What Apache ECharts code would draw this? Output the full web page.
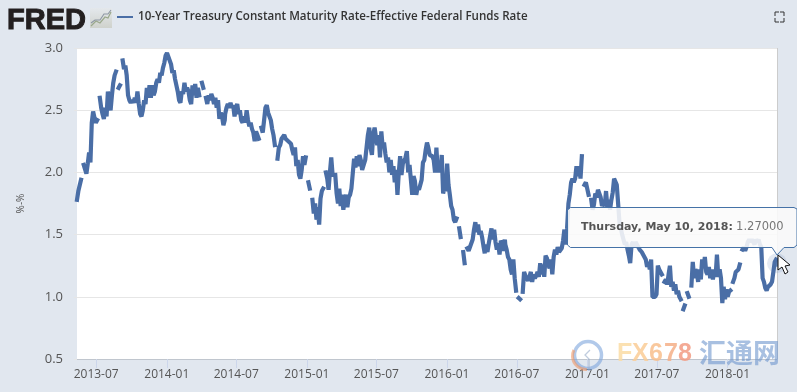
<!DOCTYPE html>
<html><head><meta charset="utf-8">
<style>html,body{margin:0;padding:0;background:#e1e7ef}#c{width:797px;height:392px}</style>
<script src="https://cdn.jsdelivr.net/npm/echarts@6/dist/echarts.min.js"></script>
</head><body><div id="c"></div>
<script>
const _ = null;
const seriesName = '10-Year Treasury Constant Maturity Rate-Effective Federal Funds Rate';
const stepDays = 3.5;
const yTicks = [0.5, 1.0, 1.5, 2.0, 2.5, 3.0];
const xTickDates = ['2013-07-01','2014-01-01','2014-07-01','2015-01-01','2015-07-01','2016-01-01','2016-07-01','2017-01-01','2017-07-01','2018-01-01'];
const firstDates = ['2013-05-12','2014-06-02','2015-06-02','2016-06-01','2017-05-19'];
const rates2013 = [1.78,1.85,1.86,1.94,_,2.06,2.06,1.99,2.07,2.16,2.08,2.40,2.49,2.44,2.40,2.42,_,2.60,2.52,2.47,2.43,2.52,2.45,2.65,2.55,2.50,2.62,2.72,2.78,2.81,_,2.68,2.70,_,2.90,2.83,2.86,2.78,2.62,2.58,2.56,2.58,2.56,2.60,2.56,2.65,2.55,2.47,2.45,2.50,2.58,2.55,2.68,2.60,2.70,2.60,2.70,2.62,2.65,2.72,2.75,2.72,2.80,2.78,2.84,2.88,2.94,2.96,2.93,2.94,2.87,2.80,2.82,2.75,2.70,2.65,2.58,2.56,2.65,2.63,2.72,2.65,2.68,2.65,2.58,2.55,2.70,2.62,2.71,2.60,2.68,2.62,_,2.72,2.68,_,2.60,2.55,2.62,2.58,2.63,2.60,2.55,2.60,2.52,2.58,2.43,2.48,2.45,2.38,2.42];
const rates2014 = [2.47,2.52,2.55,2.52,2.56,2.52,2.54,2.45,2.52,2.55,2.47,2.50,2.42,2.40,2.45,2.40,2.50,2.42,2.37,2.40,2.35,2.32,2.25,2.33,2.30,2.27,_,2.36,2.32,2.42,2.52,2.54,2.48,2.45,2.42,2.35,2.30,2.22,_,2.11,2.20,2.22,2.27,2.26,2.30,2.27,2.28,2.25,2.26,2.23,2.18,2.14,2.20,2.05,2.10,1.98,1.95,2.02,2.13,2.06,2.12,_,1.92,1.87,_,1.78,1.67,1.75,1.62,1.72,1.58,1.79,1.85,1.87,_,2.00,1.95,1.86,2.00,2.12,1.98,_,1.98,1.83,1.75,1.87,1.73,1.82,1.70,1.78,1.82,1.72,1.80,1.82,1.87,1.99,2.11,2.04,2.13,2.05,2.14,2.10,2.02,2.02];
const rates2015 = [2.10,2.20,2.30,2.36,2.20,2.14,2.31,2.36,2.28,2.22,2.30,2.12,2.33,2.20,2.24,2.15,2.08,2.12,2.00,2.10,1.98,2.05,1.92,2.02,1.82,2.00,2.13,1.98,2.07,2.08,2.12,2.17,2.00,2.06,1.94,1.82,1.97,1.93,1.82,1.88,1.86,1.90,1.94,2.08,2.10,2.18,2.24,2.20,2.14,2.13,2.13,2.10,2.00,2.20,2.00,2.08,2.00,2.14,1.83,1.88,1.85,2.07,1.90,1.82,1.73,1.70,1.62,1.60,1.63,_,1.55,1.48,_,1.36,1.27,_,1.39,1.37,1.36,1.43,1.46,1.54,1.60,1.52,1.58,1.50,1.53,1.48,1.41,1.35,1.42,1.36,1.43,1.42,1.55,1.46,1.54,1.44,1.38,1.43,1.34,1.45,1.43,1.37,1.46];
const rates2016 = [1.42,1.38,1.32,1.30,1.22,1.18,1.30,1.15,1.05,_,0.99,0.98,_,1.04,1.20,1.17,1.18,1.13,1.16,1.20,1.12,1.18,1.15,1.17,1.20,1.16,1.27,1.18,1.26,1.16,1.33,1.31,1.26,1.23,1.30,1.18,1.32,1.38,1.34,1.40,1.36,1.36,1.39,1.45,1.54,1.42,1.55,1.75,1.82,1.92,1.95,1.92,1.95,2.05,1.97,2.05,1.95,2.13,_,1.90,1.92,1.87,1.82,_,1.78,1.70,1.74,1.83,1.80,1.86,1.87,1.80,1.73,1.75,1.73,1.85,1.72,1.78,1.70,1.78,1.84,1.95,1.96,1.90,1.75,1.60,1.55,1.50,1.46,1.42,1.44,1.38,1.33,1.27,1.42,1.44,1.40,1.44,1.42,1.42,1.38];
const rates2017 = [1.38,1.36,1.34,1.32,1.30,1.24,1.28,1.22,1.30,1.00,1.00,1.00,1.02,1.25,1.22,1.20,1.18,_,1.12,1.14,1.10,1.18,1.25,1.08,1.12,1.05,1.10,1.02,1.05,1.00,0.98,_,0.90,0.93,_,1.03,1.00,_,1.09,1.28,1.15,1.22,1.20,1.12,1.22,1.14,1.30,1.23,1.32,1.20,1.18,1.24,1.15,1.22,1.14,1.22,1.16,1.34,1.16,1.22,1.15,0.95,1.08,0.98,1.06,1.00,1.04,1.05,_,1.12,1.15,1.20,1.20,1.22,1.26,_,1.38,1.40,1.37,1.40,1.44,1.46,1.44,1.46,1.44,1.42,1.46,1.44,1.46,1.42,1.40,1.15,1.12,1.07,1.05,1.08,1.07,1.10,1.12,1.20,1.28,1.30,_,_];
const hoverDate = '2018-05-10';
const hoverValue = 1.27;

const DAY = 86400000;
const panels = [rates2013, rates2014, rates2015, rates2016, rates2017];
const lineData = [];
panels.forEach((vals, p) => {
  const t0 = Date.parse(firstDates[p] + 'T00:00:00Z');
  vals.forEach((v, k) => lineData.push([t0 + k * stepDays * DAY, v]));
});
const axisMin = Date.parse('2013-05-12T00:00:00Z');
const axisMax = Date.parse(hoverDate + 'T00:00:00Z');
const hoverTime = axisMax;
const tickTimes = xTickDates.map(d => Date.parse(d + 'T00:00:00Z'));
const pad = n => String(n).padStart(2, '0');
const ym = t => { const d = new Date(t); return d.getUTCFullYear() + '-' + pad(d.getUTCMonth() + 1); };

const chart = echarts.init(document.getElementById('c'), null, {renderer: 'canvas', width: 797, height: 392});
const S = (o) => Object.assign({silent: true}, o);
const fxColours = ['rgba(250,220,165,0.85)','rgba(250,205,150,0.85)','rgba(248,190,140,0.85)','rgba(245,175,135,0.85)','rgba(242,155,130,0.85)'];
const graphics = [
  // FRED wordmark
  S({type:'text', z:20, style:{text:'FRED', x:7, y:6, font:'900 29px "Liberation Sans", Arial, sans-serif', fill:'#231f20', stroke:'#231f20', lineWidth:1}}),
  // small logo chart
  S({type:'rect', z:20, shape:{x:90,y:8,width:22,height:20}, style:{fill:new echarts.graphic.LinearGradient(0,0,0,1,[{offset:0,color:'#e4e8ec'},{offset:1,color:'#cfd2cc'}])}}),
  S({type:'polyline', z:21, shape:{points:[[91,26],[96,21],[100,23],[105,17],[108,18],[111,12]]}, style:{stroke:'#9aa88c', lineWidth:1.2, fill:null}}),
  S({type:'polyline', z:21, shape:{points:[[91,23],[95,20],[100,20],[104,14],[108,14],[111,10]]}, style:{stroke:'#8d97a3', lineWidth:1.1, fill:null}}),
  // fullscreen icon
  ...[[[775,16],[775,12],[779,12]],[[780,12],[784,12],[784,16]],[[784,18],[784,22],[780,22]],[[779,22],[775,22],[775,18]]].map(p =>
    S({type:'polyline', z:20, shape:{points:p}, style:{stroke:'#333', lineWidth:1, fill:null}})),
  // right plot edge
  S({type:'line', z:3, shape:{x1:777.5,y1:48,x2:777.5,y2:359}, style:{stroke:'#ccc', lineWidth:1}}),
  // watermark
  S({type:'circle', z:30, shape:{cx:588,cy:355,r:13.5}, style:{fill:null, stroke:'rgba(125,165,220,0.6)', lineWidth:3.5}}),
  S({type:'arc', z:31, shape:{cx:586,cy:356,r:13.5,startAngle:1.5,endAngle:3.6}, style:{fill:null, stroke:'rgba(240,150,100,0.6)', lineWidth:3}}),
  S({type:'polyline', z:31, shape:{points:[[590,350],[585,355],[589,359],[589,371]]}, style:{fill:null, stroke:'rgba(150,170,200,0.6)', lineWidth:1.3}}),
  ...'FX678'.split('').map((ch, i) => S({type:'text', z:30, style:{text:ch, x:617 + [0,15,32,47,61][i], y:342,
    font:'bold 25px "Liberation Sans", Arial, sans-serif', fill:fxColours[i]}})),
  S({type:'text', z:30, style:{text:'汇通网', x:699, y:339, font:'bold 27px "Noto Sans CJK SC", sans-serif', fill:'rgba(110,150,205,0.6)'}}),
  // tooltip callout
  S({type:'polygon', z:40, shape:{points:[[570.5,207.5],[794,207.5],[797,209],[797,245],[794,247.5],[784,247.5],[777,255],[772,247.5],[570.5,247.5],[567.5,245],[567.5,210]]},
    style:{fill:'rgba(250,250,251,0.88)', stroke:'#4572a7', lineWidth:1}}),
  S({type:'text', z:41, style:{
    text:'{b|Thursday, May 10, 2018:} {v|1.27000}', x:581, y:227, verticalAlign:'middle',
    rich:{b:{font:'bold 11px "DejaVu Sans", sans-serif', fill:'#555'}, v:{font:'11.5px "DejaVu Sans", sans-serif', fill:'#777'}}}}),
  // mouse cursor
  S({type:'polygon', z:45, shape:{points:[[778,255],[778,270],[782,267],[785,274],[788,272],[785,266],[790,265]]}, style:{fill:'#fff', stroke:'#111', lineWidth:1}})
];

chart.setOption({
  animation: false,
  backgroundColor: '#e1e7ef',
  textStyle: {fontFamily: '"Open Sans", sans-serif'},
  grid: {left: 77, right: 20, top: 48, bottom: 33, show: true, backgroundColor: '#fff', borderWidth: 0},
  legend: {
    show: true, left: 117, top: 11, padding: 0, icon: 'rect', itemWidth: 16, itemHeight: 2, itemGap: 5,
    data: [seriesName],
    textStyle: {fontFamily: '"Open Sans", sans-serif', fontSize: 11.6, fontWeight: 600, color: '#333'}
  },
  xAxis: {
    type: 'value', min: axisMin, max: axisMax,
    axisLine: {show: true, lineStyle: {color: '#c0c6ce', width: 1}},
    axisTick: {show: true, length: 9, lineStyle: {color: '#ccd6eb'}, customValues: tickTimes},
    axisLabel: {customValues: tickTimes, formatter: v => ym(v), color: '#555', fontSize: 12, margin: 10, hideOverlap: false, fontFamily: '"Open Sans", sans-serif'},
    splitLine: {show: false}
  },
  yAxis: {
    type: 'value', min: yTicks[0], max: yTicks[yTicks.length - 1], interval: 0.5,
    name: '%-%', nameLocation: 'middle', nameGap: 51, nameRotate: 90,
    nameTextStyle: {color: '#555', fontSize: 10, fontFamily: '"Open Sans", sans-serif'},
    axisLine: {show: false},
    axisTick: {show: true, length: 3, lineStyle: {color: '#e6e6e6'}},
    axisLabel: {formatter: v => v.toFixed(1), color: '#555', fontSize: 13, margin: 14, fontFamily: '"Open Sans", sans-serif'},
    splitLine: {show: true, lineStyle: {color: '#e6e6e6', width: 1}}
  },
  series: [
    {name: seriesName, type: 'line', data: lineData, showSymbol: false, connectNulls: false, z: 5,
      lineStyle: {color: '#4a6ea6', width: 4.2, cap: 'square', join: 'bevel'}, itemStyle: {color: '#4a6ea6'}},
    {name: 'halo', type: 'scatter', data: [[hoverTime, hoverValue]], symbolSize: 20, z: 4, clip: false,
      itemStyle: {color: 'rgba(120,150,195,0.25)'}},
    {name: 'point', type: 'scatter', data: [[hoverTime, hoverValue]], symbolSize: 7, z: 6, clip: false,
      itemStyle: {color: '#4a6ea6'}}
  ],
  graphic: graphics
});
</script></body></html>
